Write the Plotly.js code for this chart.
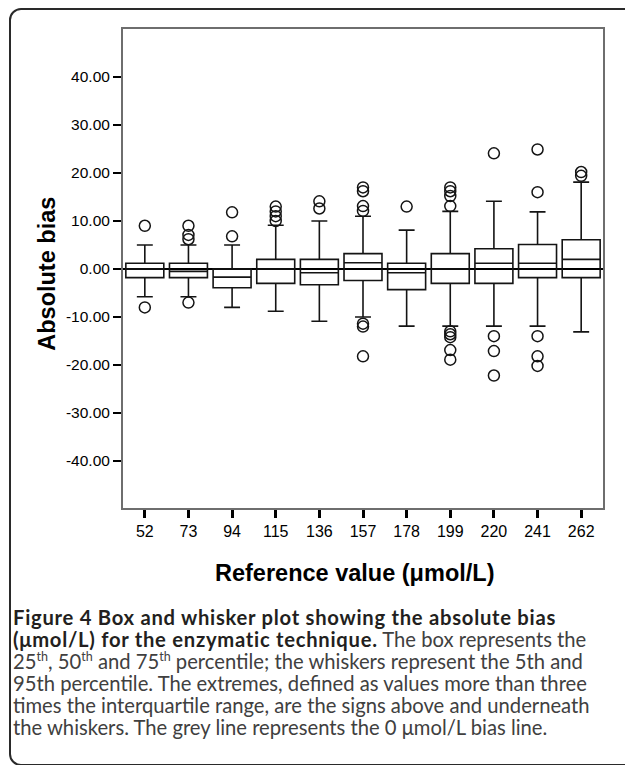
<!DOCTYPE html>
<html><head><meta charset="utf-8">
<script src="https://cdn.plot.ly/plotly-3.0.1.min.js"></script>
<style>
html,body{margin:0;padding:0;background:#fff;width:625px;height:765px;overflow:hidden;}
#wrap{position:relative;width:625px;height:765px;}
#chart{position:absolute;left:0;top:0;width:625px;height:600px;}
#frame{position:absolute;left:9px;top:8px;width:700px;height:754px;border:2px solid #2a2a2a;border-radius:12px;pointer-events:none;}
#caption{position:absolute;left:13px;top:606px;font-family:Lato,'Open Sans',sans-serif;font-size:18.5px;line-height:22px;color:#404040;white-space:nowrap;}
#caption b{color:#231f20;font-weight:700;}
#caption sup{font-size:0.62em;line-height:0;vertical-align:0.6em;}
.ln{display:block;}
.ln span.w{display:inline-block;}
</style></head><body>
<div id="wrap">
<div id="chart"></div>
<div id="frame"></div>
<div id="caption">
<div class="ln"><span class="w" id="line1"><b>Figure 4 Box and whisker plot showing the absolute bias</b></span></div>
<div class="ln"><b>(μmol/L) for the enzymatic technique.</b> The box represents the</div>
<div class="ln">25<sup>th</sup>, 50<sup>th</sup> and 75<sup>th</sup> percentile; the whiskers represent the 5th and</div>
<div class="ln">95th percentile. The extremes, defined as values more than three</div>
<div class="ln"><span class="w" id="line5">times the interquartile range, are the signs above and underneath</span></div>
<div class="ln">the whiskers. The grey line represents the 0 μmol/L bias line.</div>
</div>
</div>
<script>
// ---- data ----
const categories = ['52','73','94','115','136','157','178','199','220','241','262'];
const q1Values     = [-1.8, -1.8, -3.9, -3.0, -3.3, -2.4, -4.3, -3.0, -3.0, -1.8, -1.8];
const medianValues = [ 0.0, -0.5, -1.7,  0.0, -0.8,  1.3, -0.8,  0.0,  1.2,  1.2,  2.0];
const q3Values     = [ 1.2,  1.2,  0.0,  2.0,  2.0,  3.2,  1.2,  3.2,  4.2,  5.1,  6.1];
const lowerWhisker = [-5.8, -5.8, -8.0, -8.8, -10.9, -10.0, -11.9, -11.9, -11.9, -11.9, -13.1];
const upperWhisker = [ 5.0,  5.0,  5.0,  9.1, 10.0, 11.0,  8.1, 12.0, 14.1, 11.9, 18.1];
const outlierX = ['52','52',
                  '73','73','73','73',
                  '94','94',
                  '115','115','115','115',
                  '136','136',
                  '157','157','157','157','157','157','157',
                  '178',
                  '199','199','199','199','199','199','199','199','199',
                  '220','220','220','220',
                  '241','241','241','241','241',
                  '262','262'];
const outlierY = [9.0, -8.0,
                  9.0, 7.1, 6.2, -7.0,
                  11.8, 6.8,
                  13.0, 12.0, 11.0, 10.0,
                  14.1, 12.6,
                  17.0, 16.2, 13.1, 12.1, -11.4, -12.0, -18.2,
                  13.0,
                  17.0, 16.2, 15.2, 13.1, -13.0, -13.6, -14.2, -16.9, -18.9,
                  24.1, -14.0, -17.1, -22.2,
                  24.9, 16.0, -14.0, -18.2, -20.2,
                  20.2, 19.4];
const yTickValues = [-40, -30, -20, -10, 0, 10, 20, 30, 40];
const yTickLabels = ['-40.00', '-30.00', '-20.00', '-10.00', '0.00', '10.00', '20.00', '30.00', '40.00'];
const xTitle = 'Reference value (μmol/L)';
const yTitle = 'Absolute bias';

const ink = '#141414';
const font = 'Liberation Sans, Arial, sans-serif';

const traces = [
  {
    type: 'box', x: categories,
    q1: q1Values, median: medianValues, q3: q3Values,
    lowerfence: lowerWhisker, upperfence: upperWhisker,
    boxpoints: false, fillcolor: 'rgba(0,0,0,0)',
    line: {color: ink, width: 1.6},
    width: 0.87, whiskerwidth: 0.42,
    hoverinfo: 'skip', showlegend: false
  },
  {
    type: 'scatter', mode: 'markers', x: outlierX, y: outlierY,
    marker: {symbol: 'circle-open', size: 11, color: ink, line: {width: 1.5, color: ink}},
    hoverinfo: 'skip', showlegend: false
  }
];

const layout = {
  width: 625, height: 600,
  margin: {l: 123, r: 22, t: 29, b: 92},
  paper_bgcolor: 'rgba(0,0,0,0)', plot_bgcolor: '#fff',
  showlegend: false,
  xaxis: {
    type: 'category', range: [-0.5, 10.5],
    showline: true, mirror: true, linecolor: '#6e6e6e', linewidth: 2,
    ticks: 'outside', ticklen: 8, tickwidth: 3, tickcolor: '#000',
    tickfont: {family: font, size: 16, color: '#000'},
    showgrid: false, zeroline: false, fixedrange: true
  },
  yaxis: {
    range: [-49.8, 50.0],
    tickmode: 'array', tickvals: yTickValues, ticktext: yTickLabels,
    showline: true, mirror: true, linecolor: '#6e6e6e', linewidth: 2,
    ticks: 'outside', ticklen: 8, tickwidth: 2.5, tickcolor: '#000',
    tickfont: {family: font, size: 15.5, color: '#000'},
    showgrid: false, zeroline: true, zerolinecolor: '#000', zerolinewidth: 2,
    fixedrange: true
  },
  annotations: [
    {text: '<b>' + xTitle + '</b>', xref: 'paper', yref: 'paper', x: 0.484, y: 0,
     xanchor: 'center', yanchor: 'middle', yshift: -65, showarrow: false,
     font: {family: font, size: 23.5, color: '#000'}},
    {text: '<b>' + yTitle + '</b>', xref: 'paper', yref: 'paper', x: 0, y: 0.489,
     xanchor: 'center', yanchor: 'middle', xshift: -76, textangle: -90, showarrow: false,
     font: {family: font, size: 23.5, color: '#000'}}
  ]
};

Plotly.newPlot('chart', traces, layout, {displayModeBar: false, staticPlot: true});

// fit caption widths to the reference line lengths
(function(){
  const cap = document.getElementById('caption');
  const l5 = document.getElementById('line5');
  const base = 18.5;
  const fs = base * 577 / l5.getBoundingClientRect().width;
  cap.style.fontSize = fs.toFixed(2) + 'px';
  const l1 = document.getElementById('line1');
  const w1 = l1.getBoundingClientRect().width;
  const n1 = l1.textContent.length;
  const ls = (543 - w1) / n1;
  document.querySelectorAll('#caption b').forEach(function(b){ b.style.letterSpacing = ls.toFixed(3) + 'px'; });
})();
</script>
</body></html>
